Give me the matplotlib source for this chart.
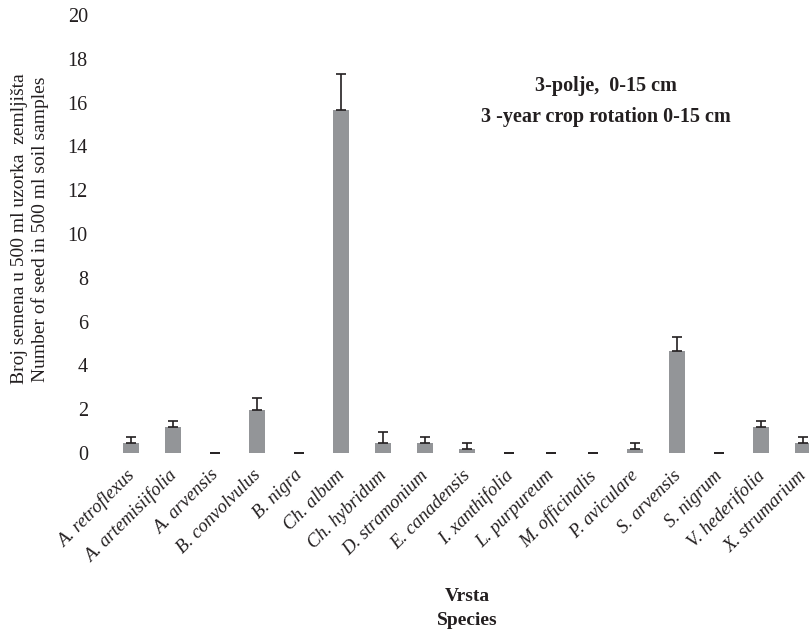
import numpy as np
import matplotlib.pyplot as plt
from matplotlib.transforms import ScaledTranslation

plt.rcParams['font.family'] = ['Liberation Serif', 'DejaVu Serif']

# Data
species = ["A. retroflexus", "A. artemisiifolia", "A. arvensis", "B. convolvulus",
           "B. nigra", "Ch. album", "Ch. hybridum", "D. stramonium", "E. canadensis",
           "I. xanthifolia", "L. purpureum", "M. officinalis", "P. aviculare",
           "S. arvensis", "S. nigrum", "V. hederifolia", "X. strumarium"]
means = [0.45, 1.2, 0, 1.95, 0, 15.65, 0.45, 0.45, 0.2, 0, 0, 0, 0.2, 4.65, 0, 1.2, 0.45]
errors = [0.3, 0.25, 0, 0.55, 0, 1.65, 0.5, 0.3, 0.25, 0, 0, 0, 0.25, 0.65, 0, 0.25, 0.3]
yticks = np.arange(0, 21, 2)

fig = plt.figure(figsize=(8.09, 6.33), dpi=100)
# axes run a bit past the right edge, as in the cropped original
ax = fig.add_axes([110 / 809, 1 - 453 / 633, 714 / 809, 438 / 633])

x = np.arange(len(species))
ax.bar(x, means, width=0.4, color='#939598', zorder=2)
ax.errorbar(x, means, yerr=[np.zeros(len(errors)), errors], fmt='none',
            ecolor='#231f20', elinewidth=1.2, capsize=3.3, capthick=1.2, zorder=3)

ax.set_xlim(-0.5, len(species) - 0.5)
ax.set_ylim(0, 20)
ax.set_yticks(yticks)
ax.tick_params(axis='y', length=0, pad=16, labelsize=14.5, colors='#231f20')
ax.tick_params(axis='x', length=0, pad=10)
ax.set_xticks(x)
ax.set_xticklabels(species, rotation=45, ha='right', rotation_mode='anchor',
                   fontstyle='italic', fontsize=13.5, color='#231f20')
shift = ScaledTranslation(-5 / 100, 0, fig.dpi_scale_trans)
for lbl in ax.get_xticklabels():
    lbl.set_transform(lbl.get_transform() + shift)
for s in ax.spines.values():
    s.set_visible(False)

fig.text(30 / 809, 1 - 229 / 633,
         "Broj semena u 500 ml uzorka  zemljišta\nNumber of seed in 500 ml soil samples",
         rotation=90, ha='center', va='center', fontsize=14, color='#231f20',
         linespacing=1.25)
ax.set_xlabel("Vrsta\nSpecies", fontsize=14, fontweight='bold', color='#231f20',
              labelpad=16, linespacing=1.5)

ax.text(0.695, 0.802, "3-polje,  0-15 cm\n3 -year crop rotation 0-15 cm",
        transform=ax.transAxes, ha='center', va='center', fontsize=14.5,
        fontweight='bold', color='#231f20', linespacing=1.7)

fig.savefig("out.png", dpi=100)
